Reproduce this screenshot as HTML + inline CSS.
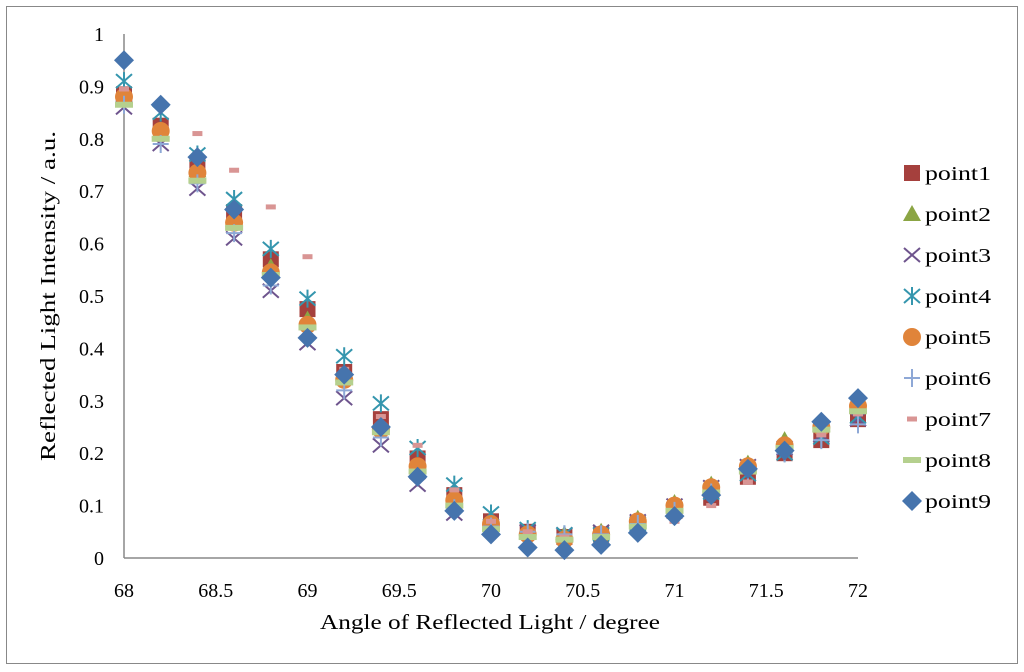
<!DOCTYPE html>
<html><head><meta charset="utf-8"><style>
body{margin:0;background:#fff}
svg{display:block;font-family:"Liberation Serif",serif}
</style></head><body>
<svg id="chart" width="1024" height="672">
<rect x="6.5" y="6.5" width="1011" height="657" fill="#fff" stroke="#888"/>
<g id="axes"></g><g id="marks"></g><g id="legend"></g>
<text x="320" y="629" font-size="21" textLength="340" lengthAdjust="spacingAndGlyphs">Angle of Reflected Light / degree</text>
<text transform="translate(55,461) rotate(-90)" font-size="21" textLength="330" lengthAdjust="spacingAndGlyphs">Reflected Light Intensity / a.u.</text>
</svg>
<script>
const xCats=[68,68.2,68.4,68.6,68.8,69,69.2,69.4,69.6,69.8,70,70.2,70.4,70.6,70.8,71,71.2,71.4,71.6,71.8,72];
const xTicks=[68,68.5,69,69.5,70,70.5,71,71.5,72];
const xTickLabels=["68","68.5","69","69.5","70","70.5","71","71.5","72"];
const yTicks=[0,0.1,0.2,0.3,0.4,0.5,0.6,0.7,0.8,0.9,1];
const yTickLabels=["0","0.1","0.2","0.3","0.4","0.5","0.6","0.7","0.8","0.9","1"];
const seriesNames=["point1","point2","point3","point4","point5","point6","point7","point8","point9"];
const point1=[0.885,0.825,0.75,0.66,0.57,0.475,0.355,0.265,0.19,0.12,0.07,0.05,0.04,0.045,0.065,0.09,0.115,0.155,0.2,0.225,0.265];
const point2=[0.875,0.815,0.74,0.645,0.555,0.455,0.345,0.255,0.175,0.11,0.065,0.05,0.045,0.05,0.075,0.105,0.14,0.18,0.225,0.255,0.29];
const point3=[0.86,0.79,0.705,0.61,0.51,0.41,0.305,0.215,0.14,0.085,0.055,0.05,0.045,0.05,0.07,0.1,0.135,0.175,0.21,0.235,0.265];
const point4=[0.91,0.85,0.77,0.685,0.59,0.495,0.385,0.295,0.21,0.14,0.085,0.055,0.045,0.045,0.065,0.09,0.125,0.16,0.2,0.23,0.27];
const point5=[0.88,0.815,0.735,0.64,0.545,0.445,0.34,0.245,0.175,0.11,0.065,0.045,0.035,0.045,0.07,0.1,0.135,0.175,0.215,0.25,0.29];
const point6=[0.865,0.79,0.715,0.62,0.52,0.42,0.32,0.23,0.155,0.095,0.06,0.05,0.045,0.045,0.065,0.09,0.125,0.165,0.2,0.225,0.255];
const point7=[0.895,0.86,0.81,0.74,0.67,0.575,0.36,0.27,0.215,0.13,0.07,0.05,0.04,0.04,0.06,0.07,0.1,0.145,0.2,0.235,0.275];
const point8=[0.865,0.8,0.72,0.63,0.54,0.44,0.335,0.24,0.165,0.1,0.055,0.04,0.035,0.04,0.06,0.09,0.125,0.165,0.21,0.245,0.28];
const point9=[0.95,0.865,0.765,0.665,0.535,0.42,0.35,0.25,0.155,0.09,0.045,0.02,0.015,0.025,0.048,0.08,0.12,0.17,0.205,0.26,0.305];
const allSeries=[point1,point2,point3,point4,point5,point6,point7,point8,point9];
const colors=["#A5403D","#8BA544","#6E548D","#3596AE","#E0843A","#8EA8D6","#D99594","#B5D08E","#4674AD"];
const NS="http://www.w3.org/2000/svg";
const X=v=>124+(v-68)*183.5, Y=v=>558-v*524;
function mk(t,a,p){const e=document.createElementNS(NS,t);for(const k in a)e.setAttribute(k,a[k]);p.appendChild(e);return e;}
const axes=document.getElementById('axes');
let l=mk('line',{x1:124,y1:Y(1),x2:124,y2:558,stroke:'#888','stroke-width':1.5},axes);


l=mk('line',{x1:124,y1:558,x2:858,y2:558,stroke:'#888','stroke-width':1.5},axes);


yTicks.forEach((v,i)=>{const t=mk('text',{x:104,y:Y(v)+7,'font-size':20,'text-anchor':'end'},axes);t.textContent=yTickLabels[i];

});
xTicks.forEach((v,i)=>{const t=mk('text',{x:X(v),y:597,'font-size':20,'text-anchor':'middle'},axes);t.textContent=xTickLabels[i];

});
function marker(k,cx,cy,g){const c=colors[k];let e;
switch(k){
case 0:e=mk('rect',{x:cx-8,y:cy-8,width:16,height:16,fill:c},g);break;
case 1:e=mk('polygon',{points:`${cx},${cy-9} ${cx+9},${cy+7} ${cx-9},${cy+7}`,fill:c},g);break;
case 2:e=mk('path',{d:`M${cx-8} ${cy-7}L${cx+8} ${cy+7}M${cx+8} ${cy-7}L${cx-8} ${cy+7}`,stroke:c,'stroke-width':2},g);break;
case 3:e=mk('path',{d:`M${cx-8} ${cy-7}L${cx+8} ${cy+7}M${cx+8} ${cy-7}L${cx-8} ${cy+7}M${cx} ${cy-9}L${cx} ${cy+9}`,stroke:c,'stroke-width':2},g);break;
case 4:e=mk('circle',{cx:cx,cy:cy,r:9,fill:c},g);break;
case 5:e=mk('path',{d:`M${cx-8} ${cy}L${cx+8} ${cy}M${cx} ${cy-9}L${cx} ${cy+9}`,stroke:c,'stroke-width':2},g);break;
case 6:e=mk('rect',{x:cx-5,y:cy-2.5,width:10,height:5,fill:c},g);break;
case 7:e=mk('rect',{x:cx-9,y:cy-3,width:18,height:6,fill:c},g);break;
case 8:e=mk('polygon',{points:`${cx},${cy-10} ${cx+10},${cy} ${cx},${cy+10} ${cx-10},${cy}`,fill:c},g);break;}
return e;}
const marks=document.getElementById('marks');
allSeries.forEach((s,k)=>{const g=mk('g',{},marks);


s.forEach((v,i)=>{const e=marker(k,X(xCats[i]),Y(v),g);

});});
const lg=document.getElementById('legend');
seriesNames.forEach((n,k)=>{const g=mk('g',{},lg);


const y=173+k*41;marker(k,912,y,g);
const t=mk('text',{x:925,y:y+7,'font-size':20,textLength:66,lengthAdjust:'spacingAndGlyphs'},g);t.textContent=n;});
</script>
</body></html>
